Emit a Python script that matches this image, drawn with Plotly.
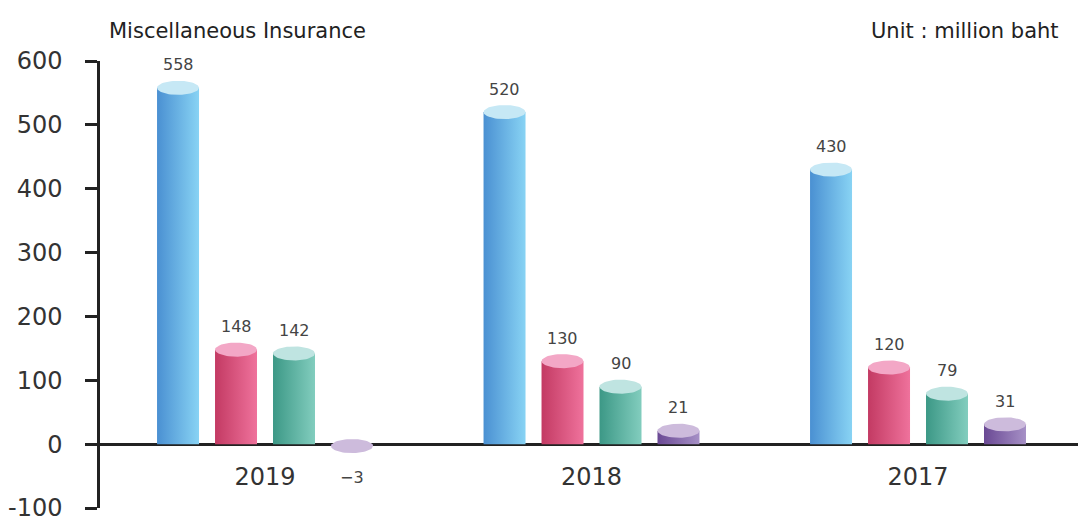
import plotly.graph_objects as go
import numpy as np

years = ['2019', '2018', '2017']
series_a = [558, 520, 430]   # blue
series_b = [148, 130, 120]   # pink
series_c = [142, 90, 79]     # teal
series_d = [-3, 21, 31]      # purple
y_ticks = [-100, 0, 100, 200, 300, 400, 500, 600]
y_labels = ['-100', '0', '100', '200', '300', '400', '500', '600']

all_series = [series_a, series_b, series_c, series_d]
# body gradient (left, right) and cap colour for each series
body_cols = [('#4a90d2', '#88d3f4'), ('#c33a63', '#ef729c'),
             ('#3c9886', '#82cdbe'), ('#6a4994', '#a690c6')]
cap_cols = ['#c6e8f5', '#f3a7c6', '#bfe4e1', '#cdbbdc']

step = 0.1776      # distance between bars inside a group
half_w = 0.0643    # half bar width
cap_h = 11         # half height of the top ellipse (axis units)

FONT = 'DejaVu Sans'

fig = go.Figure()
t = np.linspace(0, 2 * np.pi, 60)

for i, vals in enumerate(all_series):
    for g, v in enumerate(vals):
        xc = g + (i - 1.5) * step
        x0, x1 = xc - half_w, xc + half_w
        fig.add_trace(go.Scatter(
            x=[x0, x0, x1, x1, x0], y=[0, v, v, 0, 0],
            mode='lines', line=dict(width=0), fill='toself',
            fillgradient=dict(type='horizontal',
                              colorscale=[[0, body_cols[i][0]], [1, body_cols[i][1]]]),
            hoverinfo='skip', showlegend=False))
        fig.add_trace(go.Scatter(
            x=xc + half_w * np.cos(t), y=v + cap_h * np.sin(t),
            mode='lines', line=dict(width=0), fill='toself',
            fillcolor=cap_cols[i], hoverinfo='skip', showlegend=False))
        fig.add_annotation(
            x=xc, y=v, text=str(v).replace('-', '−'), showarrow=False,
            yshift=23 if v >= 0 else -31,
            font=dict(size=16, color='#444'))

fig.add_annotation(xref='paper', yref='paper', x=(107 - 100) / 978, y=1 + (61 - 31) / 447,
                   text='Miscellaneous Insurance', showarrow=False, xanchor='left',
                   yanchor='middle', font=dict(size=21, color='#222'))
fig.add_annotation(xref='paper', yref='paper', x=(1061 - 100) / 978, y=1 + (61 - 31) / 447,
                   text='Unit : million baht', showarrow=False, xanchor='right',
                   yanchor='middle', font=dict(size=21, color='#222'))

fig.update_layout(
    width=1081, height=529,
    margin=dict(l=100, r=3, t=61, b=21),
    plot_bgcolor='white', paper_bgcolor='white',
    font=dict(family=FONT, color='#333'),
    xaxis=dict(range=[-0.5054, 2.49], showgrid=False, zeroline=False,
               tickvals=[0, 1, 2], ticktext=years, ticks='',
               anchor='free', position=100 / 700, automargin=False,
               tickfont=dict(size=24, color='#333'), ticklabelstandoff=16),
    yaxis=dict(range=[-100, 600], tickvals=y_ticks, ticktext=y_labels,
               showgrid=False, automargin=False,
               zeroline=True, zerolinecolor='#222', zerolinewidth=3,
               showline=True, linecolor='#222', linewidth=2.5,
               ticks='outside', ticklen=12, tickwidth=2.5, tickcolor='#222',
               tickfont=dict(size=24, color='#333'), ticklabelstandoff=18),
)

fig.write_html('out.html', config={'displayModeBar': False},
               post_script="document.body.style.margin='0';")
